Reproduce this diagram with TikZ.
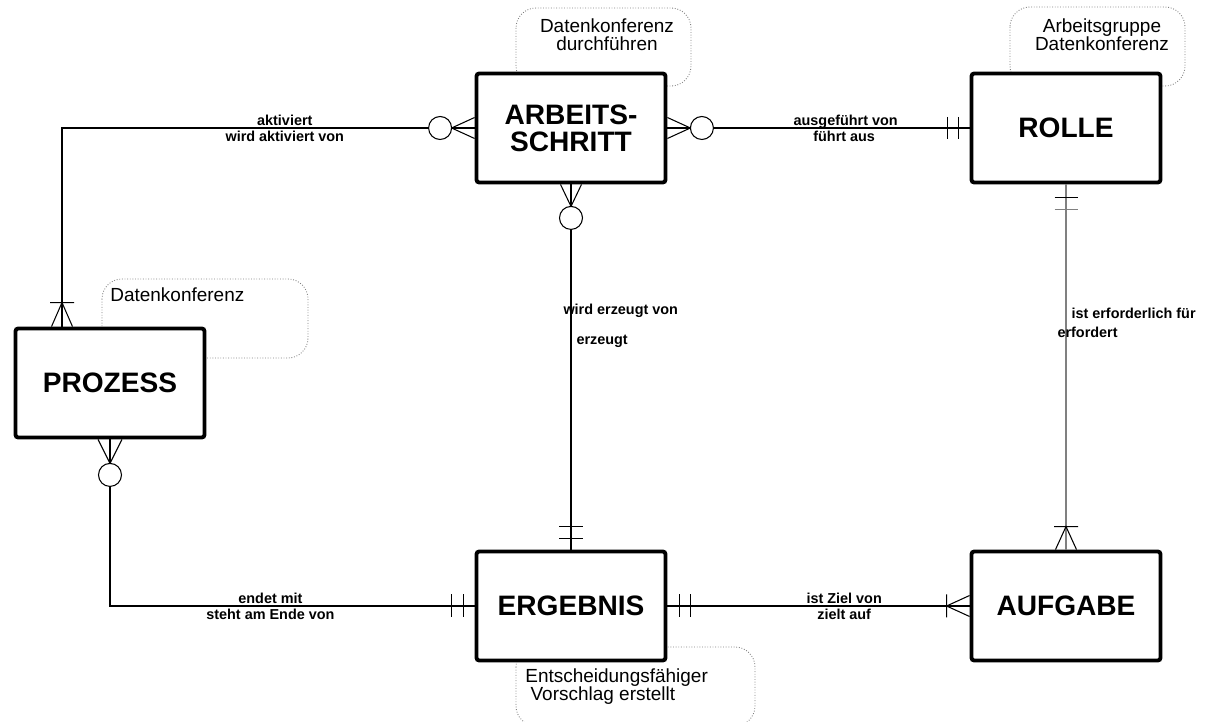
\documentclass[tikz,border=0pt]{standalone}
\usepackage{fontspec}
\setmainfont{Liberation Sans}
\usetikzlibrary{calc}

\begin{document}
\begin{tikzpicture}[x=0.02cm, y=-0.02cm, every node/.style={inner sep=0pt},
  entity/.style={draw, line width=2.2pt, rounded corners=1.5pt, fill=white, align=center, minimum width=3.78cm, minimum height=2.18cm, font=\fontsize{16}{15.5}\selectfont\bfseries},
  note/.style={draw=gray, densely dotted, line width=0.5pt, rounded corners=0.4cm},
  notetext/.style={font=\fontsize{10.8}{10.5}\selectfont, align=center},
  rel/.style={font=\fontsize{8.2}{9}\selectfont\bfseries},
  relabove/.style={rel, anchor=base, yshift=1.5pt},
  relbelow/.style={rel, anchor=north, yshift=-1.2pt},
  conn/.style={line width=0.6pt}]
  \useasboundingbox (0,0) rectangle (1208,722);

  % notes behind the entities
  \draw[note] (516,8) rectangle (691,86);
  \node[notetext, anchor=north] (noteArbeitsschritt) at (607,18) {Datenkonferenz\\durchführen};
  \draw[note] (1010,7) rectangle (1185,86);
  \node[notetext, anchor=north] (noteRolle) at (1102,18) {Arbeitsgruppe\\Datenkonferenz};
  \draw[note] (102,279) rectangle (308,358);
  \node[notetext, anchor=base west] (noteProzess) at (110,302) {Datenkonferenz};
  \draw[note] (516,647) rectangle (755,726);
  \node[notetext, align=left, anchor=north west] (noteErgebnis) at (525,668) {Entscheidungsfähiger\\\hspace*{3pt}Vorschlag erstellt};

  % entities
  \node[entity] (arbeitsschritt) at (571,128) {ARBEITS-\\SCHRITT};
  \node[entity] (rolle) at (1066,128) {ROLLE};
  \node[entity] (prozess) at (110,383) {PROZESS};
  \node[entity] (ergebnis) at (571,606) {ERGEBNIS};
  \node[entity] (aufgabe) at (1066,606) {AUFGABE};
  \coordinate (pzTop) at ($(prozess.north)+(-48,0)$);

  % relations
  \draw[conn] (pzTop) |- (arbeitsschritt.west) node[relabove, pos=0.77] {aktiviert} node[relbelow, pos=0.77] {wird aktiviert von};
  \draw[conn] (arbeitsschritt.east) -- (rolle.west) node[relabove, pos=0.59] {ausgeführt von} node[relbelow, pos=0.585] {führt aus};
  \draw[conn] (arbeitsschritt.south) -- (ergebnis.north) node[rel, pos=0.356, anchor=base west, xshift=-0.16cm] {wird erzeugt von} node[rel, pos=0.438, anchor=base west, xshift=0.1cm] {erzeugt};
  \draw[conn, draw=gray] (rolle.south) -- (aufgabe.north) node[rel, pos=0.366, anchor=base west, xshift=0.1cm] {ist erforderlich für} node[rel, pos=0.42, anchor=base west, xshift=-0.18cm] {erfordert};
  \draw[conn] (prozess.south) |- (ergebnis.west) node[relabove, pos=0.72] {endet mit} node[relbelow, pos=0.72] {steht am Ende von};
  \draw[conn] (ergebnis.east) -- (aufgabe.west) node[relabove, pos=0.585] {ist Ziel von} node[relbelow, pos=0.585] {zielt auf};

  % cardinality marks
  \draw[conn] ($(pzTop)+(-10.5,0)$) -- ($(pzTop)+(0,-24)$) -- ($(pzTop)+(10.5,0)$) ($(pzTop)+(-12,-24)$) -- ($(pzTop)+(12,-24)$);
  \draw[conn] ($(arbeitsschritt.west)+(0,-10.5)$) -- ($(arbeitsschritt.west)+(-23,0)$) -- ($(arbeitsschritt.west)+(0,10.5)$);
  \draw[conn, fill=white] ($(arbeitsschritt.west)+(-34.5,0)$) circle[radius=0.23cm];
  \draw[conn] ($(arbeitsschritt.east)+(0,-10.5)$) -- ($(arbeitsschritt.east)+(23,0)$) -- ($(arbeitsschritt.east)+(0,10.5)$);
  \draw[conn, fill=white] ($(arbeitsschritt.east)+(34.5,0)$) circle[radius=0.23cm];
  \draw[conn] ($(rolle.west)+(-22,-11)$) -- ($(rolle.west)+(-22,11)$) ($(rolle.west)+(-11,-11)$) -- ($(rolle.west)+(-11,11)$);
  \draw[conn] ($(arbeitsschritt.south)+(-10.5,0)$) -- ($(arbeitsschritt.south)+(0,22)$) -- ($(arbeitsschritt.south)+(10.5,0)$);
  \draw[conn, fill=white] ($(arbeitsschritt.south)+(0,33.5)$) circle[radius=0.23cm];
  \draw[conn] ($(ergebnis.north)+(-12,-23)$) -- ($(ergebnis.north)+(12,-23)$) ($(ergebnis.north)+(-12,-11)$) -- ($(ergebnis.north)+(12,-11)$);
  \draw[conn] ($(rolle.south)+(-11.5,13)$) -- ($(rolle.south)+(11.5,13)$);
  \draw[conn, draw=gray] ($(rolle.south)+(-11.5,25)$) -- ($(rolle.south)+(11.5,25)$);
  \draw[conn] ($(aufgabe.north)+(-10.5,0)$) -- ($(aufgabe.north)+(0,-23)$) -- ($(aufgabe.north)+(10.5,0)$) ($(aufgabe.north)+(-12,-23)$) -- ($(aufgabe.north)+(12,-23)$);
  \draw[conn] ($(prozess.south)+(-12,0)$) -- ($(prozess.south)+(0,24)$) -- ($(prozess.south)+(12,0)$);
  \draw[conn, fill=white] ($(prozess.south)+(0,35.5)$) circle[radius=0.23cm];
  \draw[conn] ($(ergebnis.west)+(-23,-11.5)$) -- ($(ergebnis.west)+(-23,11.5)$) ($(ergebnis.west)+(-11,-11.5)$) -- ($(ergebnis.west)+(-11,11.5)$);
  \draw[conn] ($(ergebnis.east)+(12,-11.5)$) -- ($(ergebnis.east)+(12,11.5)$) ($(ergebnis.east)+(23,-11.5)$) -- ($(ergebnis.east)+(23,11.5)$);
  \draw[conn] ($(aufgabe.west)+(0,-10.5)$) -- ($(aufgabe.west)+(-23,0)$) -- ($(aufgabe.west)+(0,10.5)$) ($(aufgabe.west)+(-23,-11.5)$) -- ($(aufgabe.west)+(-23,11.5)$);
\end{tikzpicture}
\end{document}
